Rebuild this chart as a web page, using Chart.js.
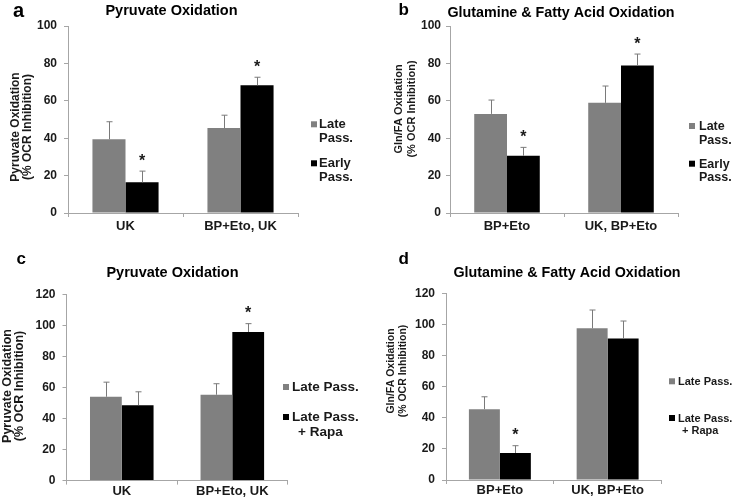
<!DOCTYPE html>
<html>
<head>
<meta charset="utf-8">
<script src="https://cdn.jsdelivr.net/npm/chart.js@4.4.1/dist/chart.umd.min.js"></script>
<style>
  html, body { margin: 0; padding: 0; background: #fff; }
  #wrap { position: relative; width: 734px; height: 502px; overflow: hidden; }
  .panel { position: absolute; width: 367px; height: 251px; }
</style>
</head>
<body>
<div id="wrap">
  <div class="panel" style="left:0;top:0"><canvas id="chartA" width="367" height="251"></canvas></div>
  <div class="panel" style="left:367px;top:0"><canvas id="chartB" width="367" height="251"></canvas></div>
  <div class="panel" style="left:0;top:251px"><canvas id="chartC" width="367" height="251"></canvas></div>
  <div class="panel" style="left:367px;top:251px"><canvas id="chartD" width="367" height="251"></canvas></div>
</div>
<script>
// ---- data ----
// a: pyruvate oxidation, late vs early passage
const catsA = ["UK", "BP+Eto, UK"];
const lateA = [39.4, 45.4];
const lateErrA = [9.4, 6.9];
const earlyA = [16.4, 68.3];
const earlyErrA = [6.0, 4.3];
const earlyStarA = [true, true];

// b: glutamine & fatty acid oxidation, late vs early passage
const catsB = ["BP+Eto", "UK, BP+Eto"];
const lateB = [53.0, 58.9];
const lateErrB = [7.4, 9.0];
const earlyB = [30.6, 78.9];
const earlyErrB = [4.5, 6.1];
const earlyStarB = [true, true];

// c: pyruvate oxidation, late passage +/- rapamycin
const catsC = ["UK", "BP+Eto, UK"];
const lateC = [54.0, 55.3];
const lateErrC = [9.4, 7.1];
const rapaC = [48.6, 95.7];
const rapaErrC = [8.6, 5.4];
const rapaStarC = [false, true];

// d: glutamine & fatty acid oxidation, late passage +/- rapamycin
const catsD = ["BP+Eto", "UK, BP+Eto"];
const lateD = [45.6, 97.7];
const lateErrD = [8.0, 11.8];
const rapaD = [17.4, 91.1];
const rapaErrD = [4.7, 11.3];
const rapaStarD = [true, false];

const noStar = [false, false];
const namesAB = ["Late\nPass.", "Early\nPass."];
const namesCD = ["Late Pass.", "Late Pass.\n+ Rapa"];
const yMaxAB = 100;
const yMaxCD = 120;
const yStep = 20;

// ---- styles ----
const fontFamily = '"Liberation Sans", Arial, sans-serif';
const axisGray = "#a6a6a6";
const textCol = "#1a1a1a";
const errCol = "#7a7a7a";

// error bars, asterisks, panel letter, title, y title and legend
const decor = {
  id: "decor",
  afterDraw(chart, args, d) {
    const ctx = chart.ctx;
    const y = chart.scales.y;
    ctx.save();

    chart.data.datasets.forEach((ds, i) => {
      chart.getDatasetMeta(i).data.forEach((bar, j) => {
        const top = y.getPixelForValue(ds.data[j] + ds.errors[j]);
        const x = Math.round(bar.x) + 0.5;
        ctx.strokeStyle = errCol;
        ctx.lineWidth = 1;
        ctx.beginPath();
        ctx.moveTo(x, bar.y);
        ctx.lineTo(x, top);
        ctx.moveTo(x - 3, top);
        ctx.lineTo(x + 3, top);
        ctx.stroke();
        if (ds.stars[j]) {
          ctx.fillStyle = textCol;
          ctx.font = "bold 16px " + fontFamily;
          ctx.textAlign = "center";
          ctx.textBaseline = "alphabetic";
          ctx.fillText("*", bar.x, top - 5.5);
        }
      });
    });

    ctx.fillStyle = "#000";
    ctx.textBaseline = "alphabetic";
    ctx.textAlign = "left";
    ctx.font = "bold " + d.letter.size + "px " + fontFamily;
    ctx.fillText(d.letter.t, d.letter.x, d.letter.y);

    ctx.textAlign = "center";
    ctx.font = "bold " + d.title.size + "px " + fontFamily;
    ctx.fillText(d.title.t, d.title.x, d.title.y);

    // y axis title, two rotated lines
    ctx.save();
    ctx.translate(d.yTitle.x, d.yTitle.y);
    ctx.rotate(-Math.PI / 2);
    ctx.fillStyle = textCol;
    ctx.textBaseline = "middle";
    ctx.font = "bold " + d.yTitle.size + "px " + fontFamily;
    d.yTitle.lines.forEach((t, k) => ctx.fillText(t, 0, k * d.yTitle.gap));
    ctx.restore();

    // legend
    const lg = d.legend;
    ctx.textAlign = "left";
    ctx.textBaseline = "alphabetic";
    ctx.font = "bold " + lg.size + "px " + fontFamily;
    chart.data.datasets.forEach((ds, i) => {
      const base = lg.rows[i];
      ctx.fillStyle = ds.backgroundColor;
      ctx.fillRect(lg.sqX, base - 7, 6, 6);
      ctx.fillStyle = textCol;
      ds.label.split("\n").forEach((t, k) => {
        ctx.fillText(t, lg.textX + (k ? lg.indent : 0), base + k * lg.gap);
      });
    });
    ctx.restore();
  }
};

function panel(id, p) {
  new Chart(document.getElementById(id), {
    type: "bar",
    data: {
      labels: p.cats,
      datasets: [
        { label: p.names[0], data: p.s1, errors: p.e1, stars: p.st1, backgroundColor: "#808080",
          categoryPercentage: 0.575, barPercentage: 1, borderWidth: 0 },
        { label: p.names[1], data: p.s2, errors: p.e2, stars: p.st2, backgroundColor: "#000000",
          categoryPercentage: 0.575, barPercentage: 1, borderWidth: 0 }
      ]
    },
    options: {
      responsive: false,
      animation: false,
      layout: { padding: { left: 0, top: p.box.top, right: p.box.right, bottom: 0 } },
      plugins: { legend: { display: false }, tooltip: { enabled: false }, decor: p.decor },
      scales: {
        x: {
          grid: { drawOnChartArea: false, tickLength: 4, color: axisGray, offset: true },
          border: { color: axisGray },
          ticks: { color: textCol, padding: p.xPad, font: { family: fontFamily, size: 13, weight: "bold", lineHeight: 1 } },
          afterFit: s => { s.height = p.box.xh; }
        },
        y: {
          min: 0,
          max: p.yMax,
          grid: { drawOnChartArea: false, tickLength: 4, color: axisGray },
          border: { color: axisGray },
          ticks: { stepSize: yStep, color: textCol, padding: p.yPad, font: { family: fontFamily, size: 12, weight: "bold" } },
          afterFit: s => { s.width = p.box.yw; }
        }
      }
    },
    plugins: [decor]
  });
}

panel("chartA", {
  cats: catsA, names: namesAB, s1: lateA, e1: lateErrA, st1: noStar, s2: earlyA, e2: earlyErrA, st2: earlyStarA,
  yMax: yMaxAB, box: { yw: 68, right: 69, top: 26, xh: 38 }, xPad: 3, yPad: 7,
  decor: {
    letter: { t: "a", x: 13, y: 16.5, size: 20 },
    title: { t: "Pyruvate Oxidation", x: 171.5, y: 15, size: 14.5 },
    yTitle: { lines: ["Pyruvate Oxidation", "(% OCR Inhibition)"], x: 15.5, y: 127, size: 12, gap: 12 },
    legend: { sqX: 311, textX: 319, size: 13, rows: [128.3, 167.3], gap: 14, indent: 0 }
  }
});

panel("chartB", {
  cats: catsB, names: namesAB, s1: lateB, e1: lateErrB, st1: noStar, s2: earlyB, e2: earlyErrB, st2: earlyStarB,
  yMax: yMaxAB, box: { yw: 83, right: 56, top: 26, xh: 38 }, xPad: 3, yPad: 5,
  decor: {
    letter: { t: "b", x: 31.5, y: 15, size: 17 },
    title: { t: "Glutamine & Fatty Acid Oxidation", x: 194, y: 17, size: 14.3 },
    yTitle: { lines: ["Gln/FA Oxidation", "(% OCR Inhibition)"], x: 32, y: 109, size: 11, gap: 12.5 },
    legend: { sqX: 322, textX: 332, size: 12.5, rows: [130, 167.7], gap: 13.5, indent: 0 }
  }
});

panel("chartC", {
  cats: catsC, names: namesCD, s1: lateC, e1: lateErrC, st1: noStar, s2: rapaC, e2: rapaErrC, st2: rapaStarC,
  yMax: yMaxCD, box: { yw: 66.5, right: 79.4, top: 43.3, xh: 21.4 }, xPad: 0, yPad: 7,
  decor: {
    letter: { t: "c", x: 16.5, y: 13.3, size: 17 },
    title: { t: "Pyruvate Oxidation", x: 172.5, y: 25.5, size: 14.5 },
    yTitle: { lines: ["Pyruvate Oxidation", "(% OCR Inhibition)"], x: 7.5, y: 135, size: 12.5, gap: 12 },
    legend: { sqX: 283, textX: 292, size: 13.5, rows: [140, 170], gap: 15, indent: 6 }
  }
});

panel("chartD", {
  cats: catsD, names: namesCD, s1: lateD, e1: lateErrD, st1: noStar, s2: rapaD, e2: rapaErrD, st2: rapaStarD,
  yMax: yMaxCD, box: { yw: 79, right: 72.5, top: 42.7, xh: 22 }, xPad: 0, yPad: 7,
  decor: {
    letter: { t: "d", x: 31.5, y: 13.3, size: 17 },
    title: { t: "Glutamine & Fatty Acid Oxidation", x: 200, y: 25.5, size: 14.3 },
    yTitle: { lines: ["Gln/FA Oxidation", "(% OCR Inhibition)"], x: 24, y: 120, size: 10.5, gap: 12 },
    legend: { sqX: 302, textX: 311, size: 11, rows: [134.3, 171], gap: 12.3, indent: 4 }
  }
});
</script>
</body>
</html>
